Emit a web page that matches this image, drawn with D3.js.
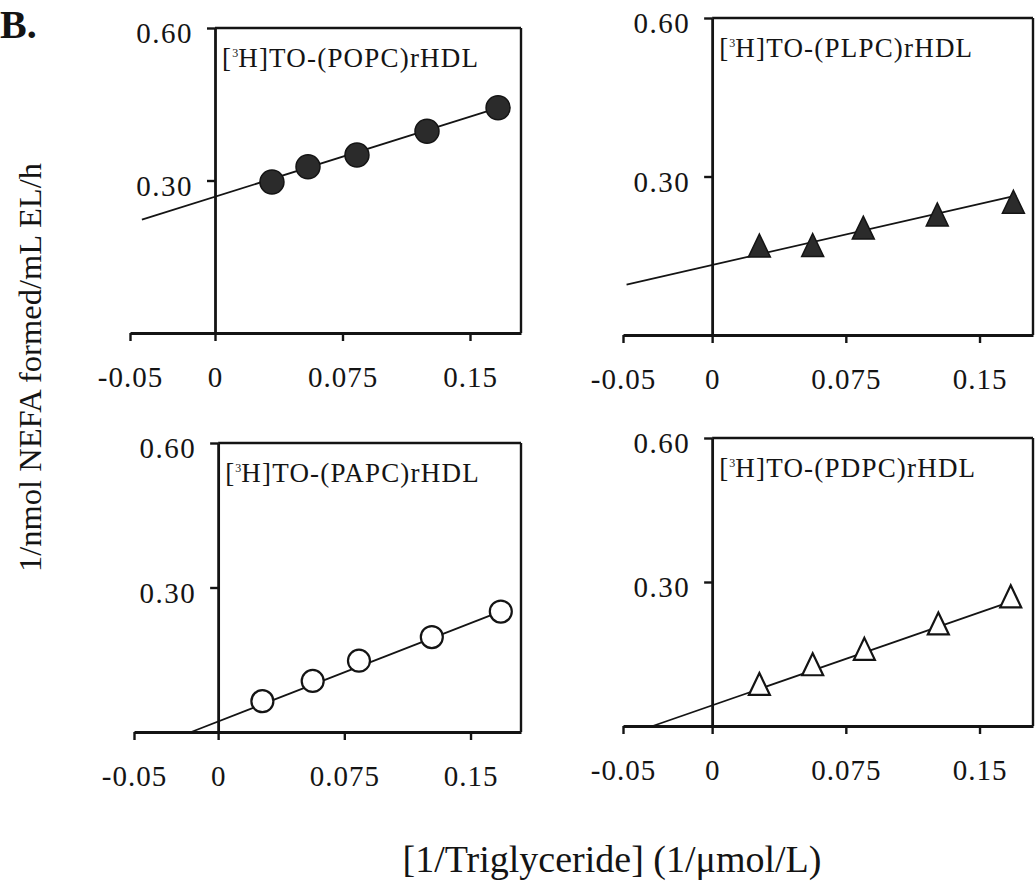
<!DOCTYPE html>
<html>
<head>
<meta charset="utf-8">
<script src="https://cdn.jsdelivr.net/npm/d3@7"></script>
<style>
  html, body { margin: 0; padding: 0; background: #fff; }
  svg { display: block; }
  text { font-family: "Liberation Serif", "Times New Roman", Times, serif; fill: #141414; }
</style>
</head>
<body>
<svg id="chart" width="1035" height="885"></svg>
<script>
// Lineweaver-Burk style plots of endothelial lipase activity against rHDL of four phospholipid compositions

// Shared axis ticks
const xTickValues = [-0.05, 0, 0.075, 0.15];
const xTickLabels = ["-0.05", "0", "0.075", "0.15"];
const yTickValues = [0.30, 0.60];
const yTickLabels = ["0.30", "0.60"];
const xDomain = [-0.05, 0.18];
const yDomain = [0, 0.60];

// Phospholipid in each rHDL preparation
const phospholipids = ["POPC", "PLPC", "PAPC", "PDPC"];

// 1/[triglyceride] (1/µmol/L) and 1/rate (1/nmol NEFA formed/mL EL/h)
const invTG_POPC = [0.0335, 0.0547, 0.0835, 0.1247, 0.1665];
const invRate_POPC = [0.297, 0.327, 0.350, 0.397, 0.443];

const invTG_PLPC = [0.0265, 0.0564, 0.0848, 0.1263, 0.1690];
const invRate_PLPC = [0.162, 0.163, 0.196, 0.221, 0.245];

const invTG_PAPC = [0.0263, 0.0562, 0.0837, 0.1270, 0.1680];
const invRate_PAPC = [0.064, 0.106, 0.148, 0.197, 0.250];

const invTG_PDPC = [0.0265, 0.0564, 0.0854, 0.1269, 0.1675];
const invRate_PDPC = [0.080, 0.121, 0.153, 0.206, 0.2625];

// Linear regression lines: slope, intercept and the x extent drawn
const fitSlope = [1.05, 0.77, 1.36, 1.29];
const fitIntercept = [0.268, 0.1325, 0.0218, 0.043];
const fitFrom = [-0.043, -0.048, -0.016, -0.0333];
const fitTo = [0.1665, 0.168, 0.168, 0.1675];

const xSeries = [invTG_POPC, invTG_PLPC, invTG_PAPC, invTG_PDPC];
const ySeries = [invRate_POPC, invRate_PLPC, invRate_PAPC, invRate_PDPC];

// Marker style per panel
const markerShape = ["circle", "triangle", "circle", "triangle"];
const markerFilled = [true, true, false, false];

// Pixel frame of each panel: left/right ends of the x range, bottom/top of the y range
const frames = [
  { left: 130, right: 521, bottom: 333, top: 28 },
  { left: 623, right: 1033, bottom: 335, top: 18 },
  { left: 134, right: 521, bottom: 732, top: 443 },
  { left: 623, right: 1033, bottom: 726, top: 438 }
];

const ink = "#141414";
const svg = d3.select("#chart");

// Panel letter
svg.append("text")
  .attr("x", 0).attr("y", 38)
  .style("font-size", "40px").style("font-weight", "bold")
  .text("B.");

// Shared axis titles
svg.append("text")
  .attr("transform", "translate(41,367.5) rotate(-90)")
  .attr("text-anchor", "middle")
  .style("font-size", "32.5px")
  .text("1/nmol NEFA formed/mL EL/h");

svg.append("text")
  .attr("x", 612).attr("y", 872)
  .attr("text-anchor", "middle")
  .style("font-size", "38px")
  .text("[1/Triglyceride] (1/\u03BCmol/L)");

function trianglePath(w, h) {
  return `M0,${-2 * h / 3}L${w / 2},${h / 3}L${-w / 2},${h / 3}Z`;
}

phospholipids.forEach((pl, i) => {
  const f = frames[i];
  const x = d3.scaleLinear().domain(xDomain).range([f.left, f.right]);
  const y = d3.scaleLinear().domain(yDomain).range([f.bottom, f.top]);
  const g = svg.append("g");

  // Frame: top and right edges of the plotting box
  g.append("line")
    .attr("x1", x(0)).attr("x2", x(xDomain[1]))
    .attr("y1", y(yDomain[1])).attr("y2", y(yDomain[1]))
    .attr("stroke", ink).attr("stroke-width", 2.4);
  g.append("line")
    .attr("x1", x(xDomain[1])).attr("x2", x(xDomain[1]))
    .attr("y1", y(yDomain[1])).attr("y2", y(0))
    .attr("stroke", ink).attr("stroke-width", 2.4);

  // x axis along y = 0
  const xAxis = g.append("g")
    .attr("transform", `translate(0,${y(0)})`)
    .call(d3.axisBottom(x)
      .tickValues(xTickValues)
      .tickFormat((d, k) => xTickLabels[k])
      .tickSizeInner(8).tickSizeOuter(0).tickPadding(25));
  xAxis.select(".domain").attr("stroke", ink).attr("stroke-width", 2.8);
  xAxis.selectAll(".tick line").attr("stroke", ink).attr("stroke-width", 2.4);
  xAxis.selectAll(".tick text")
    .style("font-size", "29px").style("letter-spacing", "1px")
    .attr("fill", ink);

  // y axis along x = 0
  const yAxis = g.append("g")
    .attr("transform", `translate(${x(0)},0)`)
    .call(d3.axisLeft(y)
      .tickValues(yTickValues)
      .tickFormat((d, k) => yTickLabels[k])
      .tickSizeInner(8).tickSizeOuter(0).tickPadding(14));
  yAxis.select(".domain").attr("stroke", ink).attr("stroke-width", 2.8);
  yAxis.selectAll(".tick line").attr("stroke", ink).attr("stroke-width", 2.4);
  yAxis.selectAll(".tick text")
    .style("font-size", "29px").style("letter-spacing", "1.5px")
    .attr("dy", "0.5em")
    .attr("fill", ink);

  // Regression line
  const fitX = [fitFrom[i], fitTo[i]];
  g.append("path")
    .datum(fitX)
    .attr("d", d3.line()
      .x(d => x(d))
      .y(d => y(fitIntercept[i] + fitSlope[i] * d)))
    .attr("fill", "none").attr("stroke", ink).attr("stroke-width", 1.8);

  // Data markers
  const pts = xSeries[i].map((v, k) => [v, ySeries[i][k]]);
  const filled = markerFilled[i];
  const marks = g.selectAll(".pt").data(pts).enter();
  if (markerShape[i] === "circle") {
    marks.append("circle")
      .attr("cx", d => x(d[0])).attr("cy", d => y(d[1]))
      .attr("r", filled ? 12 : 11)
      .attr("fill", filled ? "#2b2b2b" : "#fff")
      .attr("stroke", ink).attr("stroke-width", filled ? 1.5 : 2.2);
  } else {
    marks.append("path")
      .attr("transform", d => `translate(${x(d[0])},${y(d[1])})`)
      .attr("d", trianglePath(filled ? 22 : 21, filled ? 23 : 22))
      .attr("fill", filled ? "#2b2b2b" : "#fff")
      .attr("stroke", ink).attr("stroke-width", filled ? 1.5 : 2.2)
      .attr("stroke-linejoin", "miter");
  }

  // Panel title with superscript tritium mass number
  const title = g.append("text")
    .attr("x", x(0) + 7).attr("y", y(yDomain[1]) + 39)
    .style("font-size", "27px").style("letter-spacing", "1.2px");
  title.append("tspan").text("[");
  title.append("tspan").attr("dy", -10).style("font-size", "12px").style("letter-spacing", "0px").text("3");
  title.append("tspan").attr("dy", 10).text(`H]TO-(${pl})rHDL`);
});
</script>
</body>
</html>
